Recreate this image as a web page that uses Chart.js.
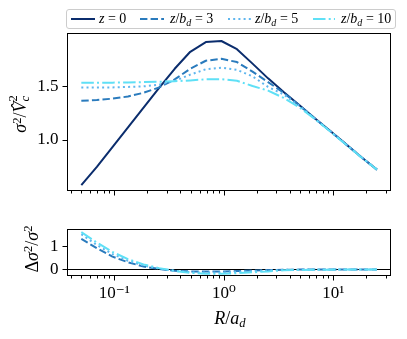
<!DOCTYPE html>
<html><head><meta charset="utf-8">
<script src="https://cdn.jsdelivr.net/npm/chart.js@4.4.0/dist/chart.umd.min.js"></script>
<style>
html,body{margin:0;padding:0;background:#fff;}
#wrap{position:relative;width:407px;height:339px;overflow:hidden;font-family:"Liberation Serif","DejaVu Serif",serif;color:#000;}
canvas{position:absolute;left:0;}
#c1{top:0;}
#c2{top:210px;}
.legend{position:absolute;left:66px;top:9px;width:330px;height:20px;border:1px solid #cccccc;border-radius:3px;box-sizing:border-box;background:#fff;}
.lg-line{position:absolute;top:0;}
.lg-text{position:absolute;top:0;height:18px;line-height:18px;font-size:14px;white-space:nowrap;}
.lg-text sub{font-size:0.72em;vertical-align:-0.25em;line-height:0;}
.lab{position:absolute;white-space:nowrap;font-size:18px;line-height:1;transform:translate(-50%,-50%);}
.rot{transform:translate(-50%,-50%) rotate(-90deg);}
.sup{font-size:0.7em;position:relative;top:-0.45em;}
.sub{font-size:0.7em;position:relative;top:0.25em;}
.ss{display:inline-block;vertical-align:-0.2em;font-size:0.7em;line-height:0.95;text-align:left;}
.ss span{display:block;}
</style>
</head><body>
<div id="wrap">
<canvas id="c1" width="407" height="210"></canvas>
<canvas id="c2" width="407" height="129"></canvas>

<div class="legend">
  <svg class="lg-line" style="left:4px" width="24" height="18"><line x1="0" y1="9" x2="24" y2="9" stroke="#0b2d6d" stroke-width="2"/></svg>
  <div class="lg-text" style="left:32px"><i>z</i> = 0</div>
  <svg class="lg-line" style="left:73px" width="24" height="18"><line x1="0" y1="9" x2="24" y2="9" stroke="#2a7bbd" stroke-width="2" stroke-dasharray="7.4 3.2"/></svg>
  <div class="lg-text" style="left:103px"><i>z</i>/<i>b</i><sub><i>d</i></sub> = 3</div>
  <svg class="lg-line" style="left:161px" width="24" height="18"><line x1="0" y1="9" x2="24" y2="9" stroke="#5fb6ee" stroke-width="2" stroke-dasharray="2 3.2"/></svg>
  <div class="lg-text" style="left:188px"><i>z</i>/<i>b</i><sub><i>d</i></sub> = 5</div>
  <svg class="lg-line" style="left:246px" width="22" height="18"><line x1="0" y1="9" x2="22" y2="9" stroke="#5fe0f6" stroke-width="2" stroke-dasharray="12.5 3.2 2 3.2"/></svg>
  <div class="lg-text" style="left:274px"><i>z</i>/<i>b</i><sub><i>d</i></sub> = 10</div>
</div>

<div class="lab rot" style="left:20px;top:114px;"><i>σ</i><span class="sup">2</span>/<i>V̂</i><span class="ss"><span>2</span><span><i>c</i></span></span></div>
<div class="lab rot" style="left:32px;top:249px;">Δ<i>σ</i><span class="sup">2</span>/<i>σ</i><span class="sup">2</span></div>
<div class="lab" style="left:230px;top:318px;"><i>R</i>/<i>a</i><span class="sub"><i>d</i></span></div>
</div>

<script>
// ---- data ----
const R = [0.05, 0.0693, 0.0962, 0.1334, 0.185, 0.2566, 0.3559, 0.4937, 0.6848, 0.9499,
           1.318, 1.828, 2.535, 3.516, 4.877, 6.765, 9.384, 13.02, 18.05, 25.0];

const sigma_z0  = [0.575, 0.745, 0.93, 1.115, 1.30, 1.485, 1.665, 1.824, 1.915, 1.925,
                   1.848, 1.713, 1.575, 1.447, 1.325, 1.202, 1.081, 0.959, 0.836, 0.72];
const sigma_z3  = [1.365, 1.372, 1.385, 1.405, 1.44, 1.49, 1.565, 1.665, 1.74, 1.758,
                   1.728, 1.638, 1.54, 1.44, 1.322, 1.2, 1.08, 0.958, 0.836, 0.72];
const sigma_z5  = [1.49, 1.49, 1.49, 1.495, 1.50, 1.515, 1.55, 1.61, 1.66, 1.675,
                   1.655, 1.594, 1.495, 1.425, 1.318, 1.198, 1.079, 0.958, 0.836, 0.72];
const sigma_z10 = [1.533, 1.533, 1.535, 1.537, 1.54, 1.543, 1.548, 1.556, 1.566, 1.568,
                   1.553, 1.503, 1.46, 1.392, 1.305, 1.195, 1.077, 0.956, 0.834, 0.72];

const delta_z3  = [1.33, 0.92, 0.56, 0.31, 0.13, 0.02, -0.055, -0.085, -0.09, -0.088,
                   -0.066, -0.045, -0.025, -0.01, -0.005, -0.003, -0.002, -0.001, 0, 0];
const delta_z5  = [1.53, 1.06, 0.67, 0.38, 0.17, 0.04, -0.06, -0.115, -0.133, -0.13,
                   -0.104, -0.07, -0.038, -0.015, -0.006, -0.003, -0.002, -0.001, 0, 0];
const delta_z10 = [1.62, 1.17, 0.76, 0.45, 0.22, 0.06, -0.06, -0.145, -0.18, -0.183,
                   -0.16, -0.12, -0.085, -0.035, -0.018, -0.01, -0.006, -0.004, -0.002, 0];

const SERIES_LABELS = ['z = 0', 'z/b_d = 3', 'z/b_d = 5', 'z/b_d = 10'];
const X_MAJOR = [0.1, 1, 10];
const X_MINOR = [0.04,0.05,0.06,0.07,0.08,0.09,0.2,0.3,0.4,0.5,0.6,0.7,0.8,0.9,2,3,4,5,6,7,8,9,20,30];
const X_TICK_TEXT = {0.1:'10⁻¹', 1:'10⁰', 10:'10¹'};
const Y_TOP_TICKS = [1.0, 1.5];
const Y_BOT_TICKS = [0, 1];

// ---- styling ----
const COLORS = ['#0b2d6d', '#2a7bbd', '#5fb6ee', '#5fe0f6'];
const DASHES = [[], [7.4, 3.2], [2, 3.2], [12.5, 3.2, 2, 3.2]];
const FONT = {family: '"Liberation Serif", "DejaVu Serif", serif', size: 17};

function pts(ys){ return R.map((r,i)=>({x:r, y:ys[i]})); }
function ds(label, ys, idx){
  return {label, data: pts(ys), borderColor: COLORS[idx], backgroundColor: COLORS[idx],
          borderWidth: 2, borderDash: DASHES[idx], pointRadius: 0, tension: 0,
          fill: false, borderJoinStyle: 'round', borderCapStyle: 'butt', order: 4-idx};
}

const framePlugin = {
  id: 'frameTicks',
  beforeDatasetsDraw(chart, args, opts){
    if (!opts.zeroLine) return;
    const {ctx, chartArea:a, scales} = chart;
    const y = Math.round(scales.y.getPixelForValue(0)) + 0.5;
    ctx.save(); ctx.strokeStyle = '#000'; ctx.lineWidth = 1;
    ctx.beginPath(); ctx.moveTo(a.left, y); ctx.lineTo(a.right, y); ctx.stroke();
    ctx.restore();
  },
  afterDraw(chart, args, opts){
    const {ctx, chartArea:a, scales} = chart;
    ctx.save();
    ctx.strokeStyle = '#000'; ctx.lineWidth = 1;
    const L = Math.round(a.left)+0.5, T = Math.round(a.top)+0.5, Rr = Math.round(a.right)-0.5, B = Math.round(a.bottom)-0.5;
    ctx.strokeRect(L, T, Rr-L, B-T);
    ctx.beginPath();
    X_MAJOR.forEach(v=>{ const x = Math.round(scales.x.getPixelForValue(v))+0.5; ctx.moveTo(x,B); ctx.lineTo(x,B+5); });
    X_MINOR.forEach(v=>{ const x = Math.round(scales.x.getPixelForValue(v))+0.5; ctx.moveTo(x,B); ctx.lineTo(x,B+3); });
    opts.yTicks.forEach(v=>{ const y = Math.round(scales.y.getPixelForValue(v))+0.5; ctx.moveTo(L,y); ctx.lineTo(L-5,y); });
    ctx.stroke();
    ctx.restore();
  }
};

function xScale(showLabels, height){
  return {
    type: 'logarithmic', min: 0.037, max: 33.6,
    afterBuildTicks: s => { s.ticks = X_MAJOR.map(v=>({value:v})); },
    afterFit: s => { s.height = height; },
    grid: {display: false, drawTicks: false},
    border: {display: false},
    ticks: {display: showLabels, autoSkip: false, maxRotation: 0, padding: 7, color: '#000', font: FONT,
            callback: v => X_TICK_TEXT[v] ?? ''}
  };
}
function yScale(min, max, ticks, fmt){
  return {
    type: 'linear', min, max,
    afterBuildTicks: s => { s.ticks = ticks.map(v=>({value:v})); },
    afterFit: s => { s.width = 67; },
    grid: {display: false, drawTicks: false},
    border: {display: false},
    ticks: {padding: 8.5, color: '#000', font: FONT, callback: fmt}
  };
}

new Chart(document.getElementById('c1'), {
  type: 'line',
  data: {datasets: [
    ds(SERIES_LABELS[0], sigma_z0, 0),
    ds(SERIES_LABELS[1], sigma_z3, 1),
    ds(SERIES_LABELS[2], sigma_z5, 2),
    ds(SERIES_LABELS[3], sigma_z10, 3)
  ]},
  options: {
    responsive: false, animation: false, devicePixelRatio: 1,
    layout: {padding: {top: 33, right: 16, left: 0, bottom: 0}},
    scales: {x: xScale(false, 12), y: yScale(0.517, 2.0, Y_TOP_TICKS, v => v.toFixed(1))},
    plugins: {legend: {display: false}, tooltip: {enabled: false},
              frameTicks: {yTicks: Y_TOP_TICKS, zeroLine: false}}
  },
  plugins: [framePlugin]
});

new Chart(document.getElementById('c2'), {
  type: 'line',
  data: {datasets: [
    ds(SERIES_LABELS[1], delta_z3, 1),
    ds(SERIES_LABELS[2], delta_z5, 2),
    ds(SERIES_LABELS[3], delta_z10, 3)
  ]},
  options: {
    responsive: false, animation: false, devicePixelRatio: 1,
    layout: {padding: {top: 10, right: 16, left: 0, bottom: 0}},
    scales: {x: xScale(true, 63), y: yScale(-0.282, 1.769, Y_BOT_TICKS, v => String(Math.round(v)))},
    plugins: {legend: {display: false}, tooltip: {enabled: false},
              frameTicks: {yTicks: Y_BOT_TICKS, zeroLine: true}}
  },
  plugins: [framePlugin]
});
</script>
</body></html>
